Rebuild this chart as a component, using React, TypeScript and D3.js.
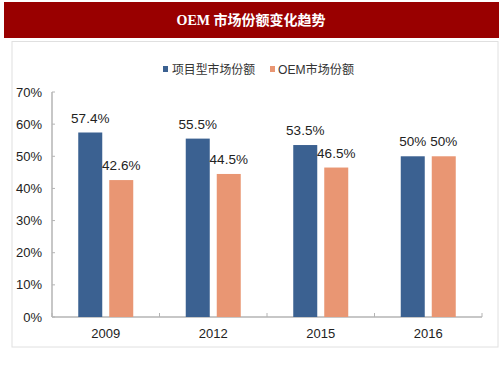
import React from "react";
import * as d3 from "d3";

const categories = ["2009", "2012", "2015", "2016"];
const seriesNames = ["项目型市场份额", "OEM市场份额"];
const projectShare = [57.4, 55.5, 53.5, 50];
const oemShare = [42.6, 44.5, 46.5, 50];
const labelsProject = ["57.4%", "55.5%", "53.5%", "50%"];
const labelsOem = ["42.6%", "44.5%", "46.5%", "50%"];
const yTicks = [0, 10, 20, 30, 40, 50, 60, 70];
const title = "OEM 市场份额变化趋势";

const W = 503;
const H = 378;
const BLUE = "#3b6191";
const ORANGE = "#e99673";
const AXIS = "#b4b4b4";
const FONT = "'Liberation Sans', Arial, 'Noto Sans CJK SC', sans-serif";

export default function App() {
  const x0 = 52, x1 = 482, yBottom = 317, yTop = 92;
  const x = d3.scaleBand<string>().domain(categories).range([x0, x1]);
  const y = d3.scaleLinear().domain([0, 70]).range([yBottom, yTop]);
  const barW = 24;
  const gap = 7;
  const series = [
    { vals: projectShare, labels: labelsProject, color: BLUE, off: -(gap / 2 + barW) },
    { vals: oemShare, labels: labelsOem, color: ORANGE, off: gap / 2 },
  ];
  const boundaries = [x0, ...categories.map((c) => (x(c) as number) + x.bandwidth())];

  return (
    <svg width={W} height={H} style={{ position: "absolute", left: 0, top: 0, background: "#fff" }}>
      <rect x={4} y={2} width={495} height={36} fill="#990000" />
      <text x={251} y={25} textAnchor="middle" fill="#fff" fontSize={14} fontWeight="bold"
        fontFamily="'Liberation Serif', 'Noto Sans CJK SC', serif">{title}</text>
      <rect x={12} y={41.5} width={486} height={305.5} fill="#fff" stroke="#e0e0e0" strokeWidth={1} />

      {/* legend */}
      <rect x={163} y={66} width={5} height={6} fill={BLUE} />
      <text x={172} y={73.5} fontSize={12} fill="#333" fontFamily={FONT} textLength={83} lengthAdjust="spacingAndGlyphs">{seriesNames[0]}</text>
      <rect x={270} y={66} width={5} height={6} fill={ORANGE} />
      <text x={278} y={73.5} fontSize={12} fill="#333" fontFamily={FONT} textLength={76} lengthAdjust="spacingAndGlyphs">{seriesNames[1]}</text>

      {/* y axis */}
      <line x1={x0} x2={x0} y1={yTop} y2={yBottom} stroke={AXIS} strokeWidth={1.5} />
      {yTicks.map((t) => (
        <g key={t}>
          <line x1={x0} x2={x0 + 3} y1={y(t)} y2={y(t)} stroke={AXIS} strokeWidth={1} />
          <text x={42} y={y(t)} dy="0.35em" textAnchor="end" fontSize={13} fill="#222" fontFamily={FONT}>{t}%</text>
        </g>
      ))}

      {/* x axis */}
      <line x1={x0} x2={x1} y1={yBottom} y2={yBottom} stroke={AXIS} strokeWidth={1.5} />
      {boundaries.map((b, i) => (
        <line key={i} x1={b} x2={b} y1={yBottom} y2={yBottom - 4} stroke={AXIS} strokeWidth={1} />
      ))}
      {categories.map((c) => (
        <text key={c} x={(x(c) as number) + x.bandwidth() / 2} y={338} textAnchor="middle" fontSize={13} fill="#222" fontFamily={FONT}>{c}</text>
      ))}

      {/* bars */}
      {series.map((s, si) =>
        categories.map((c, i) => {
          const cx = (x(c) as number) + x.bandwidth() / 2 + s.off;
          return (
            <g key={si + "-" + c}>
              <rect x={cx} y={y(s.vals[i])} width={barW} height={yBottom - y(s.vals[i])} fill={s.color} />
              <text x={cx + barW / 2} y={y(s.vals[i]) - 10} textAnchor="middle" fontSize={13.5} fill="#222" fontFamily={FONT}>{s.labels[i]}</text>
            </g>
          );
        })
      )}
    </svg>
  );
}
